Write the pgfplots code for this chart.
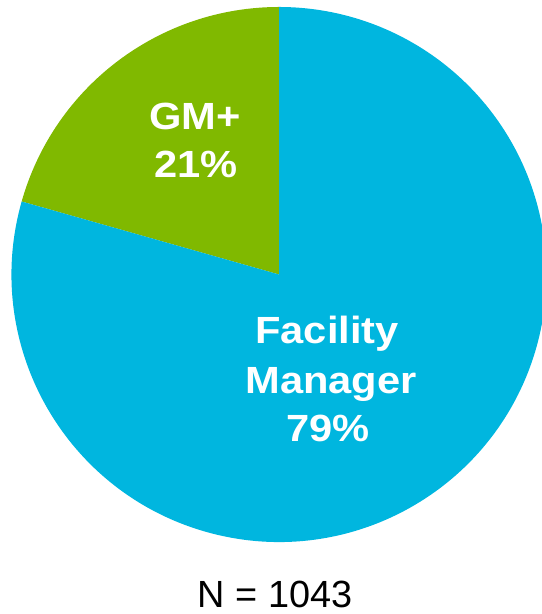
\documentclass[border=0pt]{standalone}
\usepackage{pgfplots}
\pgfplotsset{compat=1.18}
\usepackage{fontspec}
\setmainfont{Liberation Sans}
\newfontfamily\lblfont[FakeStretch=1.1]{Liberation Sans}
\definecolor{pieblue}{HTML}{00B6DF}
\definecolor{piegreen}{HTML}{80B900}
% data: share in percent
\def\valGM{20.6}
\def\valFM{79.4}
\begin{document}
\begin{tikzpicture}
\begin{axis}[
  hide axis, scale only axis,
  x=1bp, y=1bp,
  xmin=0, xmax=542, ymin=0, ymax=614,
  clip=true,
]
\path (axis cs:0,0) rectangle (axis cs:542,614);
\pgfmathsetmacro{\angGM}{90+\valGM*3.6}
\fill[piegreen, overlay] (axis cs:279,339.5) -- ++(90:267.5bp) arc[start angle=90, end angle=\angGM, radius=267.5bp] -- cycle;
\fill[pieblue, overlay] (axis cs:279,339.5) -- ++(\angGM:267.5bp) arc[start angle=\angGM, end angle=450, radius=267.5bp] -- cycle;
\tikzset{lbl/.style={anchor=base, text=white, font=\lblfont\bfseries\fontsize{38}{44}\selectfont, inner sep=0pt}}
\node[lbl] at (axis cs:195,484) {GM+};
\node[lbl] at (axis cs:196,436) {21\%};
\node[lbl] at (axis cs:327,270) {Facility};
\node[lbl] at (axis cs:331,220) {Manager};
\node[lbl] at (axis cs:328,172) {79\%};
\node[anchor=base, text=black, font=\fontsize{38}{44}\selectfont, inner sep=0pt] at (axis cs:275,6.5) {N = 1043};
\end{axis}
\end{tikzpicture}
\end{document}
